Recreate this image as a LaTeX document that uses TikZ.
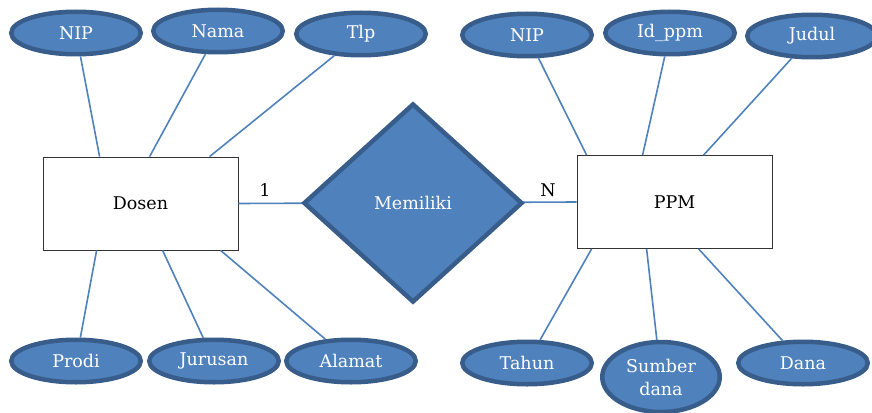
\documentclass[tikz,border=0pt]{standalone}
\usepackage{fontspec}
\setmainfont{DejaVu Serif}
\usetikzlibrary{shapes.geometric}
\definecolor{attrfill}{HTML}{4F81BD}
\definecolor{attrline}{HTML}{385D8A}
\tikzset{
  attr/.style={ellipse,draw=attrline,line width=4.5pt,fill=attrfill,text=white,
    minimum width=129.5pt,minimum height=42.5pt,inner sep=0pt},
  entity/.style={rectangle,draw=black!80,line width=0.8pt,fill=white,
    minimum width=195pt,minimum height=93pt},
  relation/.style={diamond,draw=attrline,line width=4.5pt,fill=attrfill,text=white,
    minimum width=219pt,minimum height=199pt,inner sep=0pt},
  link/.style={draw=attrfill,line width=1.6pt}
}
\begin{document}
\begin{tikzpicture}[x=1pt,y=-1pt,font=\fontsize{17.5}{20}\selectfont]
  \useasboundingbox (0,0) rectangle (872,412);
  \node[entity] (dosen) at (140.5,203.5) {Dosen};
  \node[entity] (ppm) at (674.5,202) {PPM};
  \draw[link] (dosen.east) -- (ppm.west);
  \node[relation] (memiliki) at (413,203) {Memiliki};
  \node (card1) at (265,190) {1};
  \node (cardn) at (548,190) {N};
  % atribut dosen
  \node[attr] (nip1) at (76,33) {NIP};
  \node[attr] (nama) at (218,31) {Nama};
  \node[attr] (tlp) at (361,34) {Tlp};
  \node[attr] (prodi) at (76,361) {Prodi};
  \node[attr] (jurusan) at (214,361) {Jurusan};
  \node[attr] (alamat) at (351,361) {Alamat};
  % atribut ppm
  \node[attr] (nip2) at (527,35) {NIP};
  \node[attr] (idppm) at (670,33) {Id\_ppm};
  \node[attr] (judul) at (812,36) {Judul};
  \node[attr] (tahun) at (527,363) {Tahun};
  \node[attr,minimum width=117.5pt,minimum height=70pt,align=center,
    font=\fontsize{17.5}{23}\selectfont] (sumber) at (661,377) {Sumber\\dana};
  \node[attr] (dana) at (803,363) {Dana};
  \begin{scope}[link]
    \draw (nip1) -- ([xshift=57pt]dosen.north west);
    \draw (nama) -- ([xshift=107pt]dosen.north west);
    \draw (tlp) -- ([xshift=167pt]dosen.north west);
    \draw (prodi) -- ([xshift=54pt]dosen.south west);
    \draw (jurusan) -- ([xshift=120pt]dosen.south west);
    \draw (alamat) -- ([xshift=178pt]dosen.south west);
    \draw (nip2) -- ([xshift=10pt]ppm.north west);
    \draw (idppm) -- ([xshift=66pt]ppm.north west);
    \draw (judul) -- ([xshift=127pt]ppm.north west);
    \draw (tahun) -- ([xshift=15pt]ppm.south west);
    \draw (sumber) -- ([xshift=70pt]ppm.south west);
    \draw (dana) -- ([xshift=122pt]ppm.south west);
  \end{scope}
\end{tikzpicture}
\end{document}
